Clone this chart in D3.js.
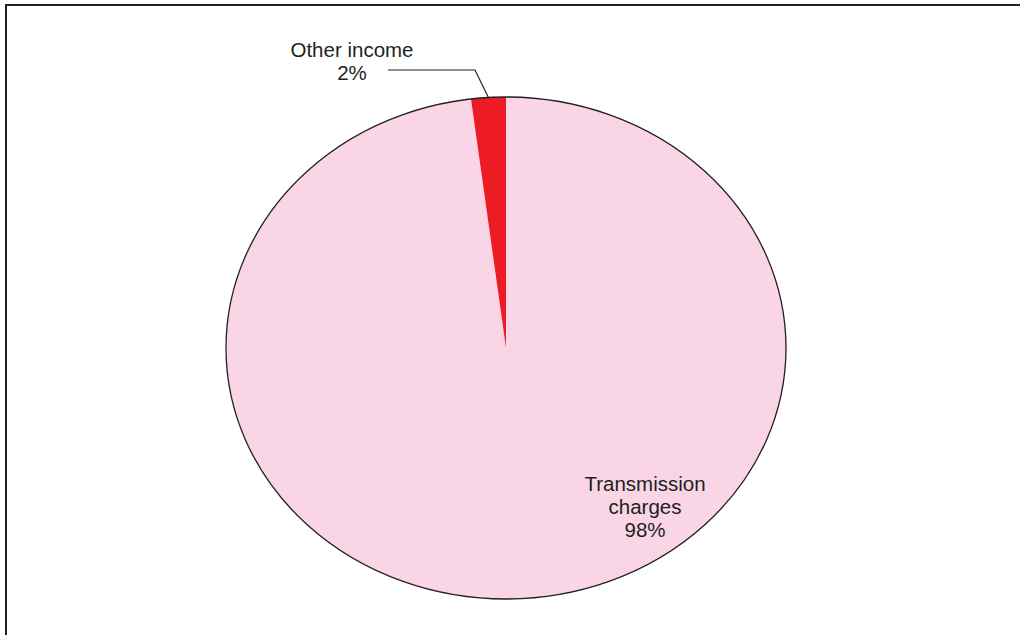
<!DOCTYPE html>
<html>
<head>
<meta charset="utf-8">
<script src="https://cdn.jsdelivr.net/npm/d3@7"></script>
<style>
  html, body { margin: 0; padding: 0; background: #fff; }
  svg { display: block; font-family: "Liberation Sans", Arial, sans-serif; }
</style>
</head>
<body>
<div id="chart"></div>
<script>
// data
const labels = ['Transmission charges', 'Other income'];
const values = [98, 2];
const colors = ['#fad5e6', '#ed1c24'];

const width = 1020;
const height = 635;
const cx = 506, cy = 348;
const rx = 280, ry = 251;

const svg = d3.select('#chart')
  .append('svg')
  .attr('width', width)
  .attr('height', height);

// frame (left and top edges)
svg.append('path')
  .attr('d', 'M6,635 L6,5 L1020,5')
  .attr('fill', 'none')
  .attr('stroke', '#231f20')
  .attr('stroke-width', 2);

const data = labels.map((l, i) => ({ label: l, value: values[i], color: colors[i] }));

const pie = d3.pie().value(d => d.value).sort(null);
const arc = d3.arc().innerRadius(0).outerRadius(1);
const pieData = pie(data);

const g = svg.append('g')
  .attr('transform', `translate(${cx},${cy}) scale(${rx},${ry})`);

g.selectAll('path.slice')
  .data(pieData)
  .enter()
  .append('path')
  .attr('class', 'slice')
  .attr('d', arc)
  .attr('fill', d => d.data.color);

// outline of the ellipse
svg.append('ellipse')
  .attr('cx', cx).attr('cy', cy)
  .attr('rx', rx).attr('ry', ry)
  .attr('fill', 'none')
  .attr('stroke', '#231f20')
  .attr('stroke-width', 1.3);

// point on the ellipse edge at a pie angle
function edge(a, k) {
  return [cx + rx * k * Math.sin(a), cy - ry * k * Math.cos(a)];
}
const midAngle = d => (d.startAngle + d.endAngle) / 2;

// leader for the small slice
const small = pieData[1];
const p0 = edge(midAngle(small), 1);
svg.append('polyline')
  .attr('points', [p0, [475, 70], [388, 70]].map(p => p.join(',')).join(' '))
  .attr('fill', 'none')
  .attr('stroke', '#231f20')
  .attr('stroke-width', 1.2);

function label(lines, x, y) {
  const t = svg.append('text')
    .attr('text-anchor', 'middle')
    .attr('font-size', 20.5)
    .attr('fill', '#231f20');
  lines.forEach((s, i) => {
    t.append('tspan').attr('x', x).attr('y', y + i * 23).text(s);
  });
}

label(['Other income', small.data.value + '%'], 352, 57);
label(['Transmission', 'charges', pieData[0].data.value + '%'], 645, 491);
</script>
</body>
</html>
